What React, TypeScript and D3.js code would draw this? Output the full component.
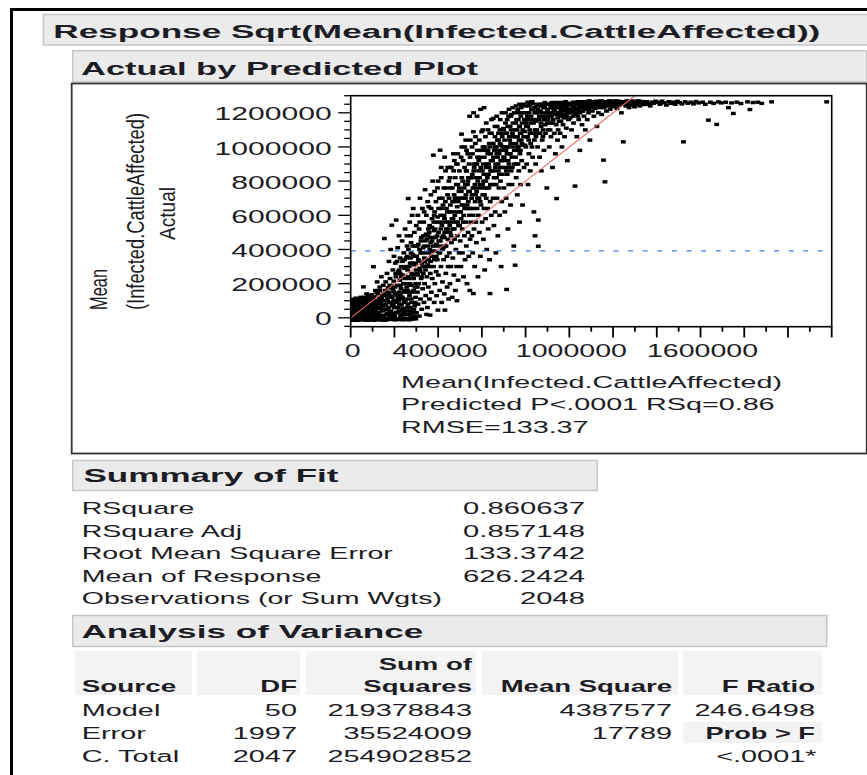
import React from "react";
import * as d3 from "d3";

// ---------- data ----------
const titleText = "Response Sqrt(Mean(Infected.CattleAffected))";
const plotTitle = "Actual by Predicted Plot";
const xTickLabelValues = [0, 400000, 1000000, 1600000];
const xTickLabels = ["0", "400000", "1000000", "1600000"];
const yTickValues = [0, 200000, 400000, 600000, 800000, 1000000, 1200000];
const yTickLabels = ["0", "200000", "400000", "600000", "800000", "1000000", "1200000"];
const meanActual = 392178; // 626.2424^2
const xAxisTitleLines = [
  "Mean(Infected.CattleAffected)",
  "Predicted P<.0001 RSq=0.86",
  "RMSE=133.37",
];
const summaryLabels = [
  "RSquare",
  "RSquare Adj",
  "Root Mean Square Error",
  "Mean of Response",
  "Observations (or Sum Wgts)",
];
const summaryValues = ["0.860637", "0.857148", "133.3742", "626.2424", "2048"];
const anovaSources = ["Model", "Error", "C. Total"];
const anovaDF = ["50", "1997", "2047"];
const anovaSS = ["219378843", "35524009", "254902852"];
const anovaMS = ["4387577", "17789", ""];
const anovaF = ["246.6498", "Prob > F", "<.0001*"];

// scatter: [predicted (thousands), actual (thousands)] — spread of the cloud
const scatterSpread: [number, number][] = [
  [2,-8],[5,20],[8,55],[10,90],[12,5],[14,40],[16,75],[18,-12],[20,100],[22,30],[24,62],[26,12],[28,85],[30,-4],[31,48],[33,110],[35,22],[37,70],[38,-10],[40,95],[42,38],[43,8],[45,58],[46,120],[47,-6],[48,80],[49,28],[6,70],[27,50],[41,65],
  [51,10],[52,60],[54,95],[55,-8],[57,35],[58,181],[59,75],[61,120],[62,15],[64,50],[65,-12],[67,88],[68,105],[70,25],[71,65],[73,140],[74,0],[76,42],[77,80],[79,112],[80,-10],[82,55],[84,20],[85,96],[87,130],[89,68],[91,5],[93,35],[95,108],[98,78],
  [101,-5],[102,45],[104,299],[105,90],[107,20],[108,125],[110,60],[112,-12],[113,160],[115,35],[117,100],[118,75],[120,8],[121,210],[123,55],[125,140],[126,-8],[128,85],[130,30],[131,115],[133,180],[135,62],[137,0],[138,98],[140,240],[142,40],[144,130],[146,72],[147,15],[149,190],
  [151,5],[152,100],[154,464],[155,50],[157,160],[158,-10],[160,210],[161,80],[163,130],[165,28],[166,260],[168,110],[170,-5],[171,175],[173,60],[175,330],[176,140],[178,15],[180,230],[181,90],[183,400],[185,40],[186,190],[188,542],[190,120],[191,-8],[193,280],[195,70],[196,155],[198,360],[199,25],[197,215],
  [201,10],[202,140],[204,320],[205,60],[207,240],[208,572],[210,100],[211,-6],[213,190],[215,410],[216,35],[218,270],[220,150],[221,480],[223,80],[225,220],[226,350],[228,15],[230,170],[231,300],[233,120],[235,450],[236,50],[238,250],[240,-4],[241,200],[243,380],[245,90],[246,290],[248,160],[249,520],[244,30],
  [251,20],[252,200],[254,350],[255,110],[257,480],[258,60],[260,280],[261,160],[263,698],[264,400],[266,-5],[267,230],[269,130],[270,560],[272,320],[273,40],[275,190],[276,440],[278,90],[279,260],[281,600],[282,150],[284,370],[285,10],[287,-4],[288,230],[290,310],[291,500],[293,70],[294,180],[296,420],[297,120],[299,280],[286,640],
  [301,30],[302,260],[304,420],[305,150],[307,600],[308,80],[310,340],[311,200],[313,520],[314,10],[316,290],[317,700],[319,110],[320,380],[322,230],[323,470],[325,50],[326,320],[328,640],[329,170],[331,410],[332,260],[334,560],[335,90],[337,350],[338,200],[340,750],[341,450],[343,130],[344,300],[346,600],[347,20],[349,240],[345,490],
  [351,60],[352,310],[354,480],[355,180],[357,650],[358,380],[360,110],[361,540],[363,16],[364,260],[366,440],[367,720],[369,150],[370,360],[372,580],[373,230],[375,800],[376,420],[378,952],[379,300],[381,510],[382,90],[384,620],[385,200],[387,390],[388,470],[390,680],[391,270],[393,130],[394,560],[396,340],[397,760],[399,45],[392,430],
  [401,250],[402,500],[404,380],[405,700],[407,160],[409,981],[410,450],[411,600],[413,300],[414,820],[416,90],[417,540],[419,400],[420,210],[422,660],[423,480],[425,340],[426,760],[428,140],[429,580],[431,45],[432,420],[434,860],[435,260],[437,520],[438,640],[440,360],[441,180],[443,720],[444,460],[446,300],[447,560],[449,800],[448,110],
  [451,380],[452,620],[454,200],[455,500],[457,760],[458,300],[460,880],[461,440],[463,580],[464,120],[466,680],[467,350],[469,520],[470,960],[472,250],[473,720],[475,460],[476,600],[478,820],[479,160],[481,400],[482,560],[484,900],[485,300],[487,650],[488,480],[490,780],[491,220],[493,540],[494,700],[496,380],[497,860],[499,620],[486,100],
  [501,450],[502,700],[504,300],[505,580],[507,1075],[508,820],[510,520],[511,380],[513,660],[514,920],[516,240],[517,600],[519,760],[520,480],[522,1000],[523,340],[525,700],[526,560],[528,860],[529,420],[531,640],[532,200],[534,780],[535,960],[537,500],[538,680],[540,360],[541,900],[543,600],[544,740],[546,460],[547,1040],[549,560],[545,160],
  [551,640],[552,820],[554,480],[555,720],[557,960],[558,380],[560,600],[561,142],[561,1089],[563,860],[564,520],[566,760],[567,300],[569,680],[570,1020],[572,560],[573,900],[575,440],[576,740],[578,640],[579,980],[581,800],[582,240],[584,600],[585,860],[587,700],[588,500],[590,940],[591,780],[593,360],[596,660],[599,1089],
  [601,560],[602,860],[604,720],[605,1000],[607,460],[608,800],[610,640],[611,940],[613,280],[614,760],[616,1060],[617,580],[619,880],[620,700],[622,400],[623,980],[625,820],[626,640],[628,1100],[629,520],[631,900],[632,760],[634,1020],[635,340],[637,142],[638,680],[640,860],[641,960],[643,600],[644,1080],[646,780],[649,920],
  [651,700],[652,1167],[654,860],[655,540],[657,980],[658,780],[660,1060],[661,620],[663,900],[664,380],[666,1000],[667,820],[669,700],[670,1120],[672,940],[673,480],[675,860],[676,1040],[678,760],[679,960],[681,600],[682,1100],[684,880],[685,800],[687,1010],[688,300],[690,920],[691,680],[693,1060],[694,840],[696,980],[698,1108],
  [701,760],[702,940],[704,1040],[705,620],[707,880],[708,1140],[710,980],[711,700],[713,166],[714,1080],[716,840],[717,1000],[719,520],[720,920],[722,1180],[723,780],[725,1060],[726,880],[728,960],[729,1120],[731,660],[732,1020],[734,860],[735,1190],[737,940],[738,780],[740,1080],[743,1000],[746,420],[749,900],
  [751,1100],[752,308],[754,940],[756,1020],[757,820],[759,1160],[760,980],[762,720],[763,1060],[765,900],[766,1200],[768,1000],[769,860],[771,1120],[772,560],[774,960],[775,1080],[777,780],[778,1180],[780,1040],[782,920],[784,1140],[786,660],[788,1010],[790,1200],[793,880],[796,1090],[799,1160],
  [801,1000],[803,1120],[805,900],[807,1200],[809,1060],[811,780],[813,1160],[815,960],[817,1240],[819,1100],[821,860],[823,1020],[825,1180],[828,1254],[830,1080],[832,940],[834,1220],[836,1140],[838,620],[840,1040],[842,1200],[844,1100],[846,900],[848,1250],[849,1160],[843,480],
  [851,1100],[853,1200],[855,1000],[858,419],[858,572],[860,1160],[862,1240],[864,940],[866,1080],[868,1210],[870,1140],[872,860],[874,1250],[876,1040],[878,1180],[880,1100],[882,1230],[884,980],[886,1160],[888,1260],[891,1080],[894,1200],[897,760],[899,1140],
  [901,1220],[903,1100],[906,1180],[908,1000],[911,1250],[913,1140],[916,1060],[919,1258],[921,1200],[923,880],[926,1160],[928,1240],[931,1080],[933,1210],[936,960],[938,1260],[940,1130],[942,698],[944,1190],[946,1040],[948,1230],[949,1100],
  [951,1200],[953,1150],[956,1250],[958,1080],[961,1220],[963,1180],[966,1000],[968,1260],[971,1130],[973,1210],[976,1240],[978,1060],[981,1190],[983,1265],[986,1110],[988,1230],[991,920],[993,1200],[996,1160],[998,1250],
  [1001,1220],[1004,1170],[1007,1250],[1010,1100],[1013,1210],[1016,1260],[1019,1140],[1022,1230],[1026,771],[1028,1190],[1031,1250],[1034,1060],[1037,1220],[1040,1265],[1043,1160],[1046,1240],[1048,980],[1049,1200],
  [1052,1250],[1055,1210],[1058,1130],[1061,1265],[1064,1230],[1067,1180],[1070,1255],[1073,1100],[1076,1220],[1079,1260],[1082,1160],[1085,1240],[1088,1200],[1091,1270],[1094,1040],[1098,1230],
  [1102,1255],[1105,1210],[1109,1240],[1112,1180],[1116,1265],[1119,1225],[1123,1250],[1126,1120],[1130,1260],[1133,1200],[1137,1245],[1141,1230],[1145,1270],[1148,1190],
  [1152,1250],[1156,923],[1160,1230],[1163,796],[1166,1265],[1170,1210],[1174,1250],[1178,1240],[1183,1270],[1187,1220],[1192,1255],[1197,1235],
  [1203,1260],[1208,1240],[1213,1270],[1218,1225],[1223,1255],[1228,1245],[1233,1265],[1238,1200],[1243,1250],[1247,1030],
  [1253,1260],[1258,1240],[1263,1270],[1268,1250],[1273,1230],[1278,1265],[1283,1255],[1288,1245],[1293,1268],[1298,1235],
  [1304,1262],[1310,1250],[1316,1270],[1322,1240],[1328,1258],[1334,1266],[1340,1248],[1346,1260],
  [1355,1265],[1362,1250],[1370,1240],[1378,1262],[1386,1256],[1394,1268],
  [1405,1262],[1414,1250],[1424,1268],[1434,1258],[1444,1245],
  [1455,1265],[1465,1255],[1474,1262],[1484,1250],[1494,1267],
  [1505,1260],[1515,1252],[1522,1030],[1530,1264],[1542,1256],
  [1556,1262],[1568,1252],[1580,1266],[1592,1258],
  [1610,1262],[1622,1250],[1636,1157],[1645,1262],
  [1660,1255],[1674,1132],[1682,1264],[1695,1258],
  [1715,1262],[1728,1230],[1742,1258],
  [1750,1196],[1766,1262],[1785,1254],
  [1815,1264],[1826,1219],[1840,1260],
  [1862,1262],[1880,1255],
  [1925,1264],
  [2177,1264],
];

// scatter: [predicted (thousands), actual (thousands)] — dense core of the cloud
const scatterCore: [number, number][] = [
  [3,30],[4,100],[7,-14],[9,12],[11,70],[13,108],[15,-2],[17,50],[19,85],[21,-15],[23,115],[25,40],[29,10],[32,78],[34,-14],[36,100],[39,45],[44,92],[47,20],[50,-12],
  [53,75],[56,115],[60,-5],[63,100],[66,30],[69,-14],[72,90],[75,55],[78,10],[81,125],[83,-14],[86,70],[88,30],[90,100],[92,-6],[94,60],[96,135],[97,15],[99,-12],[100,85],
  [103,110],[106,-14],[109,40],[111,95],[114,0],[116,60],[119,150],[122,20],[124,100],[127,-12],[129,55],[132,160],[134,10],[136,90],[139,-6],[141,115],[143,70],[145,-14],[148,45],[150,140],
  [153,-2],[156,75],[159,130],[162,-14],[164,50],[167,100],[169,20],[172,150],[174,-8],[177,90],[179,190],[182,30],[184,125],[187,-10],[189,80],[192,170],[194,10],[197,100],[200,-5],[199,60],
  [203,-12],[206,90],[209,30],[212,130],[214,-4],[217,60],[219,100],[222,-10],[224,40],[227,130],[229,-6],[232,75],[234,20],[237,110],[239,-12],[242,55],[247,-2],[250,100],
  [253,-10],[256,40],[259,-4],[262,80],[265,20],[268,-12],[271,60],[274,0],[277,110],[280,30],[283,-8],[289,50],[292,10],[295,90],[298,-6],
  [203,180],[206,260],[212,330],[217,120],[222,280],[227,190],[232,240],[237,330],[242,150],[247,230],
  [252,300],[256,180],[259,360],[263,240],[268,300],[271,200],[276,380],[280,320],[285,250],[292,360],[297,200],
  [302,360],[306,250],[309,430],[313,330],[318,270],[321,450],[327,380],[330,300],[336,420],[339,330],[344,380],[348,460],
  [353,420],[356,340],[359,500],[362,400],[365,330],[368,470],[371,530],[374,390],[377,470],[380,560],[383,340],[386,520],[389,420],[395,480],[398,590],
  [403,450],[406,560],[408,380],[412,520],[415,640],[418,470],[421,560],[424,410],[427,600],[430,500],[433,680],[436,420],[439,560],[442,620],[445,500],[450,700],
  [453,540],[456,660],[459,480],[462,620],[465,760],[468,580],[471,680],[474,520],[477,700],[480,620],[483,780],[489,560],[492,680],[495,740],[498,540],
  [503,620],[506,740],[509,660],[512,800],[515,560],[518,700],[521,640],[524,780],[527,720],[530,860],[533,660],[536,800],[539,740],[542,640],[548,820],
  [553,700],[556,840],[559,760],[562,640],[565,880],[568,780],[571,720],[574,820],[577,900],[580,700],[583,760],[586,920],[589,820],[592,680],[595,880],[598,760],
  [603,780],[606,900],[609,840],[612,720],[615,980],[618,800],[621,900],[624,760],[627,960],[630,840],[633,880],[636,1000],[639,780],[642,920],[645,860],[648,1020],
  [653,940],[656,820],[659,1000],[662,880],[665,780],[668,960],[671,1040],[674,900],[677,980],[680,840],[683,1020],[686,920],[689,1080],[692,880],[695,1000],[699,940],
  [703,1000],[706,920],[709,1080],[712,860],[715,960],[718,1120],[721,1000],[724,900],[727,1040],[730,960],[733,1100],[736,1020],[739,880],[742,1140],[745,1060],[748,980],
  [753,1060],[755,1140],[758,900],[761,1100],[764,1000],[767,1160],[770,1040],[773,1120],[776,980],[779,1080],[781,1200],[783,1020],[787,1100],[791,1060],[794,1160],[797,1010],
  [802,1140],[804,1060],[808,1180],[810,1120],[814,1040],[816,1200],[820,1080],[824,1140],[827,1220],[829,1000],[833,1160],[837,1080],[841,1230],[845,1150],[847,1060],
  [852,1160],[856,1220],[859,1080],[863,1180],[867,1250],[871,1120],[875,1200],[879,1060],[883,1160],[887,1230],[890,1130],[893,1250],[896,1180],
  [902,1160],[905,1250],[909,1200],[912,1100],[915,1230],[918,1180],[922,1260],[925,1140],[929,1220],[932,1250],[935,1190],[939,1230],[943,1260],[947,1170],
  [952,1240],[955,1200],[959,1260],[962,1150],[965,1230],[969,1190],[972,1255],[975,1170],[979,1240],[982,1215],[985,1260],[989,1180],[992,1250],[997,1220],
  [1003,1255],[1008,1200],[1012,1240],[1017,1180],[1021,1262],[1025,1220],[1030,1200],[1035,1255],[1039,1180],[1044,1230],[1050,1262],[1056,1240],[1062,1210],[1068,1255],[1074,1240],[1080,1265],[1086,1220],[1092,1250],[1097,1265],
  [1104,1240],[1110,1262],[1117,1250],[1124,1268],[1131,1240],[1139,1262],[1146,1250],[1154,1266],[1161,1255],[1168,1245],[1176,1262],[1185,1250],[1195,1268],[1205,1250],[1215,1262],[1225,1268],[1236,1255],[1246,1265],[1257,1252],[1270,1262],[1285,1268],[1300,1255],
];

// scatter: [predicted (thousands), actual (thousands)] — extra points along the middle of the band
const scatterBand: [number, number][] = [
  [305,180],[315,400],[325,240],[333,480],[342,280],[355,520],[364,300],[372,450],[382,600],[391,360],[402,640],[411,420],[419,700],[428,470],[437,760],[446,520],[454,820],[463,560],[471,860],[480,700],
  [488,900],[497,760],[505,940],[513,700],[521,880],[530,980],[538,820],[546,940],[555,1000],[563,900],[571,1060],[580,940],[588,1040],[596,980],[604,1100],[612,1000],[620,1140],[628,980],[636,1080],[644,1160],
  [652,1020],[660,1120],[668,1180],[676,1080],[684,1160],[692,1200],[700,1100],[708,1200],[716,1160],[724,1220],[732,1180],[740,1230],[748,1200],[756,1240],[764,1220],[772,1250],[780,1230],[790,1250],[800,1240],[810,1262],
  [820,1250],[830,1265],[262,150],[274,350],[288,160],[296,320],[226,260],[236,120],[246,340],[258,420],[274,480],[284,420],[300,540],[316,560],[336,620],[352,680],[368,640],[384,740],[400,800],[414,880],
  [430,940],[444,880],[458,880],[474,920],[490,960],[508,1000],[526,1040],[544,1180],[562,1200],[578,1180],[594,1220],[610,1230],
];

// ---------- layout ----------
const W = 867;
const H = 775;
const FONT = "'Liberation Sans', Arial, Helvetica, sans-serif";
const INK = "#1c1c24";
const plot = { left: 350.7, right: 831.7, top: 95.7, bottom: 326.7 };

const x = d3.scaleLinear().domain([0, 2200000]).range([plot.left, plot.right]);
const y = d3.scaleLinear().domain([-52000, 1300000]).range([plot.bottom, plot.top]);

const xTicksAll = d3.range(0, 2200001, 100000);
const yMinorTicks = d3.range(-50000, 1300001, 50000).filter((v) => v % 200000 !== 0);
const allPoints = scatterSpread.concat(scatterCore, scatterBand);

type TP = {
  x: number;
  y: number;
  s: string;
  size?: number;
  bold?: boolean;
  anchor?: "start" | "end" | "middle";
  sx?: number;
  fill?: string;
};
function T({ x, y, s, size = 17, bold = false, anchor = "start", sx = 1.7, fill = INK }: TP) {
  return (
    <text
      transform={`translate(${x},${y}) scale(${sx},1)`}
      fontSize={size}
      fontWeight={bold ? 700 : 400}
      textAnchor={anchor}
      fill={fill}
      fontFamily={FONT}
    >
      {s}
    </text>
  );
}

function Heading({ x, y, s, len }: { x: number; y: number; s: string; len: number }) {
  return (
    <text
      x={x}
      y={y}
      fontSize={17.5}
      fontWeight={700}
      fill={INK}
      fontFamily={FONT}
      textLength={len}
      lengthAdjust="spacingAndGlyphs"
    >
      {s}
    </text>
  );
}

export default function App() {
  const sumBase = 514;
  const rowH = 22.6;
  const anovaRow0 = 716;
  const colDF = 297;
  const colSS = 472;
  const colMS = 672;
  const colF = 815;
  const diagVals = [0, 1300000];
  const diag = d3.line<number>().x((v) => x(v)).y((v) => y(v))(diagVals) || "";

  return (
    <svg
      width={W}
      height={H}
      viewBox={`0 0 ${W} ${H}`}
      style={{ position: "absolute", left: 0, top: 0, background: "#fff" }}
    >
      <defs>
        <clipPath id="plotclip">
          <rect x={plot.left} y={plot.top} width={plot.right - plot.left} height={plot.bottom - plot.top} />
        </clipPath>
      </defs>
      <rect x={0} y={0} width={W} height={H} fill="#fff" />
      {/* outer border */}
      <rect x={11.5} y={9.5} width={W + 20} height={H + 20} fill="none" stroke="#000" strokeWidth={3} />

      {/* title bar */}
      <rect x={43.5} y={14.5} width={W} height={30.5} fill="#ebebeb" stroke="#c6c6c6" strokeWidth={1.5} />
      <Heading x={53.3} y={37.5} s={titleText} len={767} />

      {/* actual by predicted bar */}
      <rect x={72.7} y={50.7} width={794} height={31} fill="#ebebeb" stroke="#c6c6c6" strokeWidth={1.5} />
      <Heading x={81} y={74.5} s={plotTitle} len={397} />

      {/* plot frame */}
      <rect x={71.7} y={83.5} width={795} height={370} fill="#fff" stroke="#333" strokeWidth={1.8} />

      {/* y axis title (rotated) */}
      <g transform={`translate(106.5,310) scale(1.3,1) rotate(-90)`}>
        <text fontSize={18} fill={INK} fontFamily={FONT} textLength={41} lengthAdjust="spacingAndGlyphs">Mean</text>
      </g>
      <g transform={`translate(143.5,310) scale(1.35,1) rotate(-90)`}>
        <text fontSize={17.5} fill={INK} fontFamily={FONT} textLength={197} lengthAdjust="spacingAndGlyphs">(Infected.CattleAffected)</text>
      </g>
      <g transform={`translate(175,213.5) scale(1.3,1) rotate(-90)`}>
        <text fontSize={17.5} fill={INK} fontFamily={FONT} textAnchor="middle" textLength={53} lengthAdjust="spacingAndGlyphs">Actual</text>
      </g>

      {/* scatter */}
      <g clipPath="url(#plotclip)">
        {allPoints.map((p, i) => (
          <rect key={i} x={x(p[0] * 1000) - 2.4} y={y(p[1] * 1000) - 1.7} width={4.8} height={3.4} fill="#000" />
        ))}
        <path d={diag} stroke="#e86a6a" strokeWidth={1.1} fill="none" />
        <line
          x1={plot.left}
          x2={plot.right}
          y1={y(meanActual)}
          y2={y(meanActual)}
          stroke="#3f7fe6"
          strokeWidth={1.3}
          strokeDasharray="5,9.6"
        />
      </g>

      {/* axes frame */}
      <rect
        x={plot.left}
        y={plot.top}
        width={plot.right - plot.left}
        height={plot.bottom - plot.top}
        fill="none"
        stroke="#000"
        strokeWidth={1.6}
      />

      {/* y ticks */}
      {yTickValues.map((v) => (
        <line key={"ym" + v} x1={plot.left - 12.5} x2={plot.left} y1={y(v)} y2={y(v)} stroke="#000" strokeWidth={1.3} />
      ))}
      {yMinorTicks.map((v) => (
        <line key={"yn" + v} x1={plot.left - 6.5} x2={plot.left} y1={y(v)} y2={y(v)} stroke="#000" strokeWidth={1.3} />
      ))}
      {yTickValues.map((v, i) => (
        <T key={"yl" + v} x={331.7} y={y(v) + 7.6} s={yTickLabels[i]} anchor="end" sx={1.72} size={17.5} />
      ))}

      {/* x ticks */}
      {xTicksAll.map((v) => (
        <line
          key={"xt" + v}
          x1={x(v)}
          x2={x(v)}
          y1={plot.bottom}
          y2={plot.bottom + (v % 200000 === 0 ? 10.7 : 5)}
          stroke="#000"
          strokeWidth={1.8}
        />
      ))}
      {xTickLabelValues.map((v, i) => (
        <T key={"xl" + v} x={x(v) + 2} y={356.7} s={xTickLabels[i]} anchor="middle" sx={1.63} size={17.5} />
      ))}

      {/* x axis title lines */}
      {xAxisTitleLines.map((s, i) => (
        <T key={"xa" + i} x={401} y={387.5 + i * 22.6} s={s} sx={1.69} />
      ))}

      {/* Summary of Fit */}
      <rect x={72.7} y={460.5} width={524.5} height={30} fill="#ebebeb" stroke="#c6c6c6" strokeWidth={1.5} />
      <Heading x={83.5} y={482} s="Summary of Fit" len={255} />
      {summaryLabels.map((s, i) => (
        <T key={"sl" + i} x={81.7} y={sumBase + i * rowH} s={s} sx={1.68} />
      ))}
      {summaryValues.map((s, i) => (
        <T key={"sv" + i} x={585} y={sumBase + i * rowH} s={s} anchor="end" sx={1.72} />
      ))}

      {/* Analysis of Variance */}
      <rect x={72.7} y={615.5} width={754} height={31} fill="#ebebeb" stroke="#c6c6c6" strokeWidth={1.5} />
      <Heading x={81.4} y={637.5} s="Analysis of Variance" len={342} />

      {/* header cells */}
      <rect x={75} y={651} width={116.7} height={44} fill="#f3f3f3" />
      <rect x={196.7} y={651} width={103.3} height={44} fill="#f3f3f3" />
      <rect x={305.8} y={651} width={170} height={44} fill="#f3f3f3" />
      <rect x={482} y={651} width={196} height={44} fill="#f3f3f3" />
      <rect x={683} y={651} width={138.7} height={44} fill="#f3f3f3" />
      <rect x={683} y={721.7} width={138.7} height={21.5} fill="#f3f3f3" />

      <T x={colSS} y={669.5} s="Sum of" bold anchor="end" sx={1.62} />
      <T x={81.7} y={692.3} s="Source" bold sx={1.64} />
      <T x={colDF} y={692.3} s="DF" bold anchor="end" sx={1.62} />
      <T x={colSS} y={692.3} s="Squares" bold anchor="end" sx={1.62} />
      <T x={colMS} y={692.3} s="Mean Square" bold anchor="end" sx={1.62} />
      <T x={colF} y={692.3} s="F Ratio" bold anchor="end" sx={1.62} />

      {anovaSources.map((s, i) => (
        <g key={"ar" + i}>
          <T x={81.7} y={anovaRow0 + i * 22.8} s={s} sx={1.7} />
          <T x={colDF} y={anovaRow0 + i * 22.8} s={anovaDF[i]} anchor="end" sx={1.7} />
          <T x={colSS} y={anovaRow0 + i * 22.8} s={anovaSS[i]} anchor="end" sx={1.7} />
          {anovaMS[i] && <T x={colMS} y={anovaRow0 + i * 22.8} s={anovaMS[i]} anchor="end" sx={1.7} />}
          <T
            x={i === 2 ? colF + 1.5 : colF}
            y={anovaRow0 + i * 22.8}
            s={anovaF[i]}
            anchor="end"
            bold={i === 1}
            sx={i === 1 ? 1.6 : 1.7}
          />
        </g>
      ))}
    </svg>
  );
}
